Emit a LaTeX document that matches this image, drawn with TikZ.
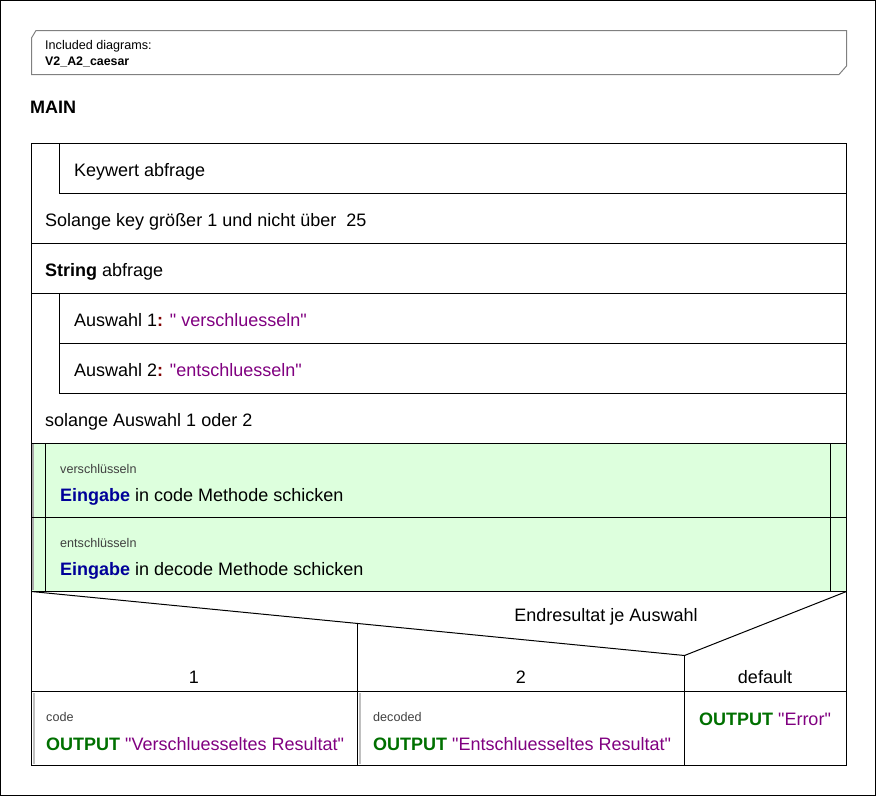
\documentclass[tikz,border=0pt]{standalone}
\usepackage{fontspec}
\setmainfont{Liberation Sans}[Ligatures=TeXOff]
\definecolor{fillgreen}{RGB}{221,255,221}
\definecolor{kwblue}{RGB}{0,0,153}
\definecolor{kwgreen}{RGB}{0,112,0}
\definecolor{strpurple}{RGB}{128,0,128}
\definecolor{colred}{RGB}{128,0,0}
\definecolor{smallgray}{RGB}{64,64,64}
\definecolor{framegray}{RGB}{128,128,128}
\definecolor{bargray}{RGB}{192,192,192}
\definecolor{bargraydark}{RGB}{170,170,170}
\tikzset{
  ln/.style={line width=1pt, black},
  txt/.style={anchor=base west, inner sep=0pt, font=\fontsize{18}{20}\selectfont},
  ctxt/.style={anchor=base, inner sep=0pt, font=\fontsize{18}{20}\selectfont},
  small/.style={anchor=base west, inner sep=0pt, font=\fontsize{12.6}{14}\selectfont, text=smallgray},
  bar/.style={line width=2pt, bargray},
}
\newcommand{\kwb}[1]{\textcolor{kwblue}{\textbf{#1}}}
\newcommand{\kwg}[1]{\textcolor{kwgreen}{\textbf{#1}}}
\newcommand{\strp}[1]{\textcolor{strpurple}{#1}}
\newcommand{\colr}{\textcolor{colred}{\textbf{:}}}
\begin{document}
\begin{tikzpicture}[x=1pt,y=-1pt]
\useasboundingbox (0,0) rectangle (876,796);
\draw[ln] (0.5,0.5) rectangle (875.5,795.5);
% header box
\draw[line width=1pt, framegray] (36,30.5) -- (846.5,30.5) -- (846.5,66) -- (839,74.5) -- (31.5,74.5) -- (31.5,38) -- cycle;
\node[anchor=base west, inner sep=0pt, font=\fontsize{12.6}{14}\selectfont] (inc) at (45,49.5) {Included diagrams:};
\node[anchor=base west, inner sep=0pt, font=\fontsize{12.4}{14}\selectfont\bfseries] (incname) at (45,65.5) {V2\_A2\_caesar};
\node[anchor=base west, inner sep=0pt, font=\fontsize{18}{20}\selectfont\bfseries] (main) at (30,113) {MAIN};
% green parallel block
\fill[fillgreen] (31,443) rectangle (846,591);
\draw[line width=1.5pt, bargraydark] (33,444) -- (33,590);
% structure lines
\draw[ln] (31.5,143.5) rectangle (846.5,765.5);
\draw[ln] (59.5,143.5) -- (59.5,193.5) -- (846.5,193.5);
\draw[ln] (31.5,243.5) -- (846.5,243.5);
\draw[ln] (31.5,293.5) -- (846.5,293.5);
\draw[ln] (59.5,293.5) -- (59.5,393.5) -- (846.5,393.5);
\draw[ln] (59.5,343.5) -- (846.5,343.5);
\draw[ln] (31.5,443.5) -- (846.5,443.5);
\draw[ln] (45.5,443.5) -- (45.5,591.5);
\draw[ln] (830.5,443.5) -- (830.5,591.5);
\draw[ln] (31.5,517.5) -- (846.5,517.5);
\draw[ln] (31.5,591.5) -- (846.5,591.5);
% case
\draw[line width=1pt] (31.5,591.5) -- (684.5,655.5) -- (846.5,591.5);
\draw[ln] (357.5,623.5) -- (357.5,765.5);
\draw[ln] (684.5,655.5) -- (684.5,765.5);
\draw[ln] (31.5,691.5) -- (846.5,691.5);
\draw[bar] (34,693) -- (34,764);
\draw[bar] (360,693) -- (360,764);
% texts
\node[txt] (kw) at (74,176.5) {Keywert abfrage};
\node[txt] (sol1) at (45,226.5) {Solange key größer 1 und nicht über \ 25};
\node[txt] (str) at (45,276.5) {\textbf{String} abfrage};
\node[txt] (aw1) at (74,326.5) {Auswahl 1\colr{} \strp{" verschluesseln"}};
\node[txt] (aw2) at (74,376.5) {Auswahl 2\colr{} \strp{"entschluesseln"}};
\node[txt] (sol2) at (45,426.5) {solange Auswahl 1 oder 2};
\node[small] (c1) at (60,473.5) {verschlüsseln};
\node[txt] (e1) at (60,501.5) {\kwb{Eingabe} in code Methode schicken};
\node[small] (c2) at (60,547.5) {entschlüsseln};
\node[txt] (e2) at (60,575.5) {\kwb{Eingabe} in decode Methode schicken};
\node[ctxt] (sel) at (606,621) {Endresultat je Auswahl};
\node[ctxt] (o1) at (194,683.5) {1};
\node[ctxt] (o2) at (521,683.5) {2};
\node[ctxt] (od) at (765,683.5) {default};
\node[small] (c3) at (46,721.5) {code};
\node[txt] (r1) at (46,750) {\kwg{OUTPUT} \strp{"Verschluesseltes Resultat"}};
\node[small] (c4) at (373,721.5) {decoded};
\node[txt] (r2) at (373,750) {\kwg{OUTPUT} \strp{"Entschluesseltes Resultat"}};
\node[ctxt] (r3) at (765,725) {\kwg{OUTPUT} \strp{"Error"}};
\end{tikzpicture}
\end{document}
